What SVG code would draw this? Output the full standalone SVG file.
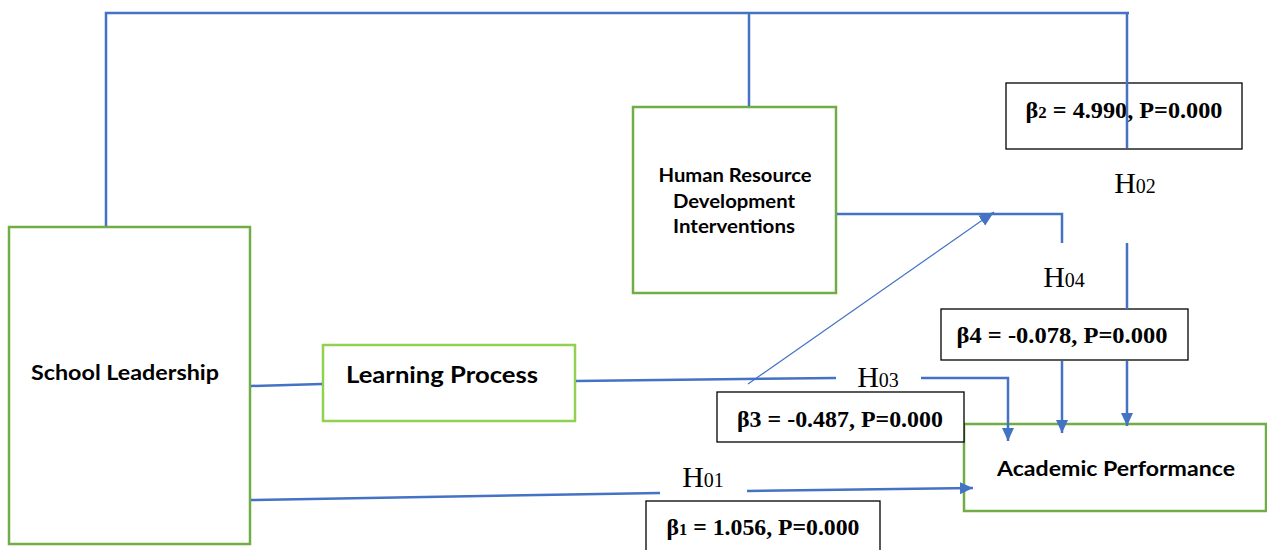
<svg xmlns="http://www.w3.org/2000/svg" width="1267" height="550" viewBox="0 0 1267 550">
<style>
.conn{fill:none;stroke:#4472C4;stroke-width:2.5}
.thin{fill:none;stroke:#4472C4;stroke-width:1.2}
.node{fill:#fff;stroke:#70AD47;stroke-width:2.5}
.node2{fill:#fff;stroke:#92D050;stroke-width:2.5}
.lbl{font-family:Lato,"Liberation Sans",sans-serif;font-weight:bold;fill:#000;text-anchor:middle}
.beta{fill:#fff;stroke:#000;stroke-width:1.3}
.bt{font-family:"Liberation Serif","Times New Roman",serif;font-weight:bold;font-size:23px;fill:#000;text-anchor:middle}
.h{font-family:"Liberation Serif","Times New Roman",serif;font-size:30px;fill:#000;text-anchor:middle}
.sub{font-size:20px}
.bsub{font-size:16px}
</style>
<defs>
<marker id="arr" markerUnits="userSpaceOnUse" markerWidth="14" markerHeight="14" viewBox="0 0 14 14" refX="13" refY="7" orient="auto">
<path d="M0,1 L13,7 L0,13 Z" fill="#4472C4"/>
</marker>
<marker id="arrs" markerUnits="userSpaceOnUse" markerWidth="16" markerHeight="14" viewBox="0 0 16 14" refX="15" refY="7" orient="auto">
<path d="M0,1 L15,7 L0,13 Z" fill="#4472C4"/>
</marker>
</defs>

<g id="beta2">
<rect class="beta" x="1006" y="83" width="236" height="66" style="fill:none"/>
<text class="bt" x="1124" y="118" textLength="197" lengthAdjust="spacingAndGlyphs">β<tspan class="bsub">2</tspan> = 4.990, P=0.000</text>
</g>

<g id="school-leadership">
<rect class="node" x="9" y="227" width="241" height="317"/>
<text class="lbl" x="125" y="380" font-size="21" textLength="188" lengthAdjust="spacingAndGlyphs">School Leadership</text>
</g>

<g id="hrd">
<rect class="node" x="633" y="107" width="203" height="186"/>
<text class="lbl" x="735" y="182" font-size="18.5" textLength="153" lengthAdjust="spacingAndGlyphs">Human Resource</text>
<text class="lbl" x="734" y="208" font-size="18.5" textLength="122" lengthAdjust="spacingAndGlyphs">Development</text>
<text class="lbl" x="734" y="233" font-size="18.5" textLength="122" lengthAdjust="spacingAndGlyphs">Interventions</text>
</g>

<g id="learning-process">
<rect class="node2" x="323" y="345" width="252" height="76"/>
<text class="lbl" x="442" y="383" font-size="22.5" textLength="192" lengthAdjust="spacingAndGlyphs">Learning Process</text>
</g>

<g id="academic-performance">
<rect class="node" x="964" y="424" width="302" height="87"/>
<text class="lbl" x="1116" y="476" font-size="21.5" textLength="238" lengthAdjust="spacingAndGlyphs">Academic Performance</text>
</g>

<g id="beta4">
<rect class="beta" x="941" y="309" width="247" height="51"/>
<text class="bt" x="1062" y="343" textLength="211" lengthAdjust="spacingAndGlyphs">β4 = -0.078, P=0.000</text>
</g>

<g id="beta3">
<rect class="beta" x="717" y="392" width="247" height="50"/>
<text class="bt" x="840" y="427" textLength="206" lengthAdjust="spacingAndGlyphs">β3 = -0.487, P=0.000</text>
</g>

<g id="beta1">
<rect class="beta" x="646" y="501" width="234" height="60"/>
<text class="bt" x="763" y="535" textLength="193" lengthAdjust="spacingAndGlyphs">β<tspan class="bsub">1</tspan> = 1.056, P=0.000</text>
</g>

<g id="labels">
<text class="h" x="1135" y="193">H<tspan class="sub">02</tspan></text>
<text class="h" x="1064" y="287">H<tspan class="sub">04</tspan></text>
<text class="h" x="878" y="387">H<tspan class="sub">03</tspan></text>
<text class="h" x="703" y="487">H<tspan class="sub">01</tspan></text>
</g>

<g id="connectors">
<path class="conn" d="M106,226 V13 H1129"/>
<path class="conn" d="M749,13 V106"/>
<path class="conn" d="M1127,13 V148"/>
<path class="conn" d="M1127,243 V309"/>
<path class="conn" d="M1127,361 V426" marker-end="url(#arr)"/>
<path class="conn" d="M837,214 H1062 V243"/>
<path class="conn" d="M1062,361 V433" marker-end="url(#arr)"/>
<path class="conn" d="M251,386 L322,384"/>
<path class="conn" d="M576,381 L836,378"/>
<path class="conn" d="M921,378 H1008 V441" marker-end="url(#arr)"/>
<path class="thin" d="M748,384 L994,212" marker-end="url(#arrs)"/>
<path class="conn" d="M251,500 L660,493"/>
<path class="conn" d="M747,491 L973,488" marker-end="url(#arr)"/>
</g>
</svg>
